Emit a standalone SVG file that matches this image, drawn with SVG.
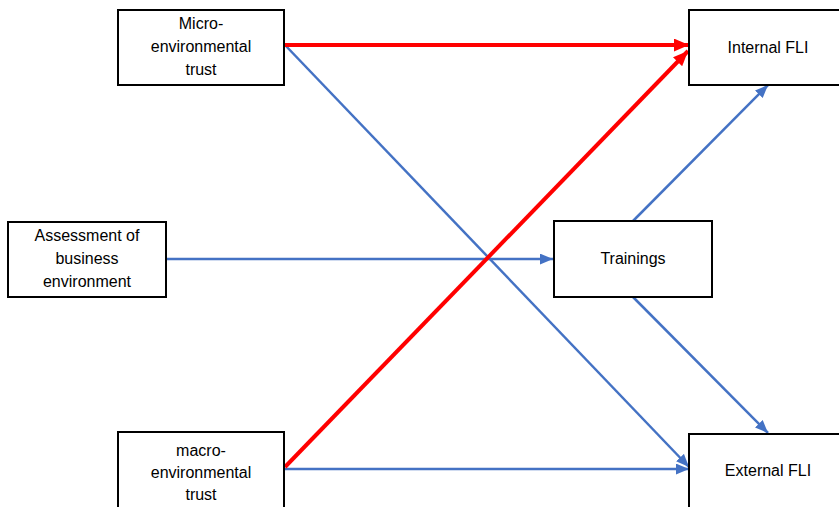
<svg xmlns="http://www.w3.org/2000/svg" width="839" height="507" viewBox="0 0 839 507">
<style>
.box{fill:#fff;stroke:#000;stroke-width:2}
.t{font-family:"Liberation Sans",Arial,sans-serif;font-size:16px;fill:#000;text-anchor:middle;dominant-baseline:central}
.blue{stroke:#4472C4;stroke-width:2.5;fill:none;marker-end:url(#ab)}
.red{stroke:#FF0000;stroke-width:4;fill:none;marker-end:url(#ar)}
</style>
<defs>
<marker id="ab" markerUnits="userSpaceOnUse" viewBox="0 0 12 10" refX="12" refY="5" markerWidth="13" markerHeight="11" orient="auto"><path d="M0,0L12,5L0,10z" fill="#4472C4"/></marker>
<marker id="ar" markerUnits="userSpaceOnUse" viewBox="0 0 14 12" refX="14" refY="6" markerWidth="15" markerHeight="13" orient="auto"><path d="M0,0L14,6L0,12z" fill="#FF0000"/></marker>
</defs>
<rect width="839" height="507" fill="#fff"/>
<g id="connectors">
<line class="blue" x1="285" y1="45" x2="689" y2="467"/>
<line class="blue" x1="285" y1="469" x2="689" y2="469"/>
<line class="blue" x1="166" y1="259" x2="553" y2="259"/>
<line class="blue" x1="633" y1="221" x2="768" y2="85"/>
<line class="blue" x1="633" y1="297" x2="768" y2="433"/>
<line class="red" x1="285" y1="45" x2="689" y2="45"/>
<line class="red" x1="285" y1="467" x2="688" y2="51"/>
</g>
<g id="micro"><rect class="box" x="118" y="10" width="166" height="75"/>
<text class="t" x="201" y="23">Micro-</text><text class="t" x="201" y="46">environmental</text><text class="t" x="201" y="69">trust</text></g>
<g id="assessment"><rect class="box" x="8" y="222" width="158" height="75"/>
<text class="t" x="87" y="235">Assessment of</text><text class="t" x="87" y="258">business</text><text class="t" x="87" y="281">environment</text></g>
<g id="macro"><rect class="box" x="118" y="432" width="166" height="80"/>
<text class="t" x="201" y="450">macro-</text><text class="t" x="201" y="472">environmental</text><text class="t" x="201" y="494">trust</text></g>
<g id="trainings"><rect class="box" x="554" y="221" width="158" height="76"/>
<text class="t" x="633" y="258">Trainings</text></g>
<g id="internal"><rect class="box" x="689" y="10" width="160" height="75"/>
<text class="t" x="768" y="47">Internal FLI</text></g>
<g id="external"><rect class="box" x="689" y="434" width="160" height="80"/>
<text class="t" x="768" y="470">External FLI</text></g>
</svg>
